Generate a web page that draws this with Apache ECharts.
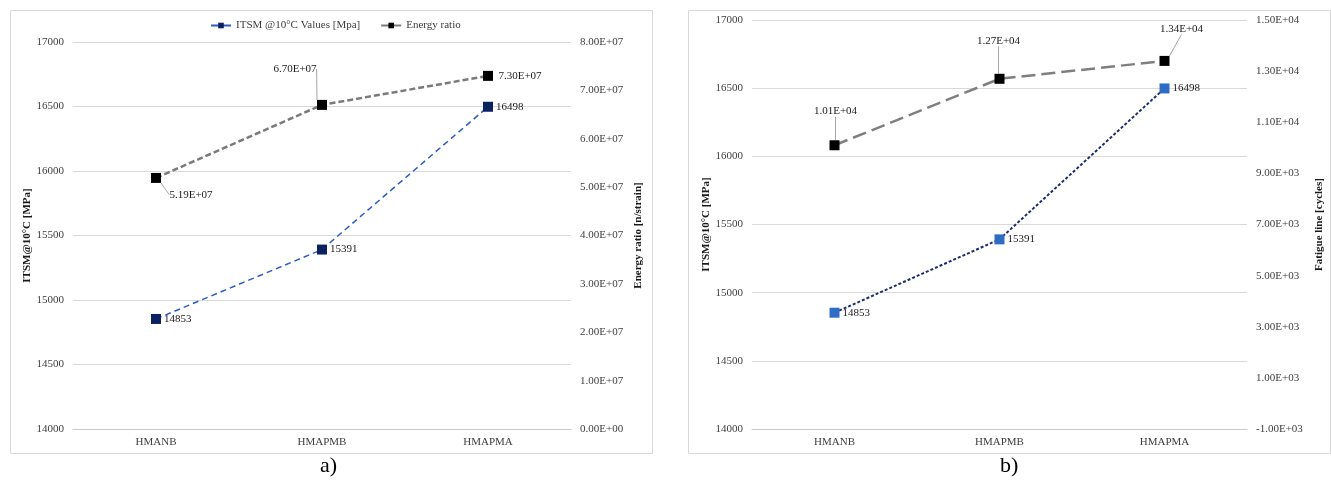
<!DOCTYPE html>
<html>
<head>
<meta charset="utf-8">
<script src="https://cdn.jsdelivr.net/npm/echarts@6/dist/echarts.min.js"></script>
<style>
    html, body { margin: 0; padding: 0; background: #fff; }
    #chart { width: 1331px; height: 481px; }
</style>
</head>
<body>
<div id="chart"></div>
<script>
const categories = ['HMANB', 'HMAPMB', 'HMAPMA'];
const itsmValues = [14853, 15391, 16498];
const energyRatio = [5.19e7, 6.70e7, 7.30e7];
const fatigueLine = [1.01e4, 1.27e4, 1.34e4];

// label offsets (dx, dy) for the leader-line labels
const energyLabelShift = [[35, 17], [-27, -36], [32, 0]];
const fatigueLabelShift = [[1, -34], [-1, -38], [17, -32]];

const serif = '"Liberation Serif", "Times New Roman", serif';
const textGrey = '#404040';

// 8.00E+07 style
function sci(v) {
    let parts = Number(v).toExponential(2).split('e');
    let exp = parseInt(parts[1], 10);
    let sign = exp < 0 ? '-' : '+';
    let e = String(Math.abs(exp)).padStart(2, '0');
    return parts[0] + 'E' + sign + e;
}

function valueAxis(gridIndex, position, min, max, interval, name, nameGap, sciLabels) {
    return {
        type: 'value',
        gridIndex: gridIndex,
        position: position,
        min: min,
        max: max,
        interval: interval,
        name: name,
        nameLocation: 'middle',
        nameRotate: 90,
        nameGap: nameGap,
        nameTextStyle: { fontFamily: serif, fontSize: 11, fontWeight: 'bold', color: '#1a1a1a' },
        axisLine: { show: false },
        axisTick: { show: false },
        axisLabel: {
            fontFamily: serif,
            fontSize: 11,
            color: textGrey,
            margin: 9,
            formatter: sciLabels ? sci : (v => String(v))
        },
        splitLine: { show: position === 'left', lineStyle: { color: '#d9d9d9', width: 1 } }
    };
}

function catAxis(gridIndex) {
    return {
        type: 'category',
        gridIndex: gridIndex,
        data: categories,
        boundaryGap: true,
        axisLine: { onZero: false, lineStyle: { color: '#c8c8c8', width: 1 } },
        axisTick: { show: false },
        axisLabel: { fontFamily: serif, fontSize: 11, color: textGrey, margin: 8 }
    };
}

function getOption() {
    return {
        backgroundColor: '#fff',
        animation: false,
        graphic: [
            { type: 'rect', shape: { x: 10.5, y: 10.5, width: 642, height: 443 },
              style: { fill: 'none', stroke: '#d9d9d9', lineWidth: 1 }, z: -1 },
            { type: 'rect', shape: { x: 688.5, y: 10.5, width: 642, height: 443 },
              style: { fill: 'none', stroke: '#d9d9d9', lineWidth: 1 }, z: -1 },
            { type: 'text', left: 320, top: 455,
              style: { text: 'a)', font: '22px ' + serif, fill: '#000' } },
            { type: 'text', left: 1000, top: 455,
              style: { text: 'b)', font: '22px ' + serif, fill: '#000' } }
        ],
        legend: {
            data: ['ITSM @10°C Values [Mpa]', 'Energy ratio'],
            left: 205,
            top: 15,
            itemWidth: 20,
            itemHeight: 7,
            itemGap: 20,
            lineStyle: { type: 'solid', width: 2 },
            textStyle: { fontFamily: serif, fontSize: 11, color: textGrey }
        },
        grid: [
            { left: 73, right: 760, top: 42, bottom: 52 },
            { left: 752, right: 84, top: 20, bottom: 52 }
        ],
        xAxis: [catAxis(0), catAxis(1)],
        yAxis: [
            valueAxis(0, 'left', 14000, 17000, 500, 'ITSM@10°C [MPa]', 40, false),
            valueAxis(0, 'right', 0, 8e7, 1e7, 'Energy ratio [n/strain]', 62, true),
            valueAxis(1, 'left', 14000, 17000, 500, 'ITSM@10°C [MPa]', 40, false),
            valueAxis(1, 'right', -1000, 15000, 2000, 'Fatigue line [cycles]', 67, true)
        ],
        series: [
            {
                name: 'ITSM @10°C Values [Mpa]',
                type: 'line',
                xAxisIndex: 0,
                yAxisIndex: 0,
                data: itsmValues,
                symbol: 'rect',
                symbolSize: 10,
                itemStyle: { color: '#0c2260' },
                lineStyle: { color: '#2a5cc4', width: 1.5, type: [6, 4] },
                label: { show: true, position: 'right', distance: 3,
                         fontFamily: serif, fontSize: 11, color: '#1a1a1a' }
            },
            {
                name: 'Energy ratio',
                type: 'line',
                xAxisIndex: 0,
                yAxisIndex: 1,
                data: energyRatio.map((v, i) => ({
                    value: v,
                    labelLine: { show: i !== 2 }
                })),
                symbol: 'rect',
                symbolSize: 10,
                itemStyle: { color: '#000' },
                lineStyle: { color: '#7a7a7a', width: 2.5, type: [6, 3] },
                label: { show: true, position: 'inside', formatter: p => sci(p.value),
                         fontFamily: serif, fontSize: 11, color: '#1a1a1a' },
                labelLine: { show: true, lineStyle: { color: '#a6a6a6', width: 1 } },
                labelLayout: p => ({ dx: energyLabelShift[p.dataIndex][0], dy: energyLabelShift[p.dataIndex][1] })
            },
            {
                name: 'ITSM b',
                type: 'line',
                xAxisIndex: 1,
                yAxisIndex: 2,
                data: itsmValues,
                symbol: 'rect',
                symbolSize: 10,
                itemStyle: { color: '#2f6cc4' },
                lineStyle: { color: '#1b2d6b', width: 2, type: [3, 2] },
                label: { show: true, position: 'right', distance: 3,
                         fontFamily: serif, fontSize: 11, color: '#1a1a1a' }
            },
            {
                name: 'Fatigue line',
                type: 'line',
                xAxisIndex: 1,
                yAxisIndex: 3,
                data: fatigueLine,
                symbol: 'rect',
                symbolSize: 10,
                itemStyle: { color: '#000' },
                lineStyle: { color: '#7f7f7f', width: 2.5, type: [14, 6] },
                label: { show: true, position: 'inside', formatter: p => sci(p.value),
                         fontFamily: serif, fontSize: 11, color: '#1a1a1a' },
                labelLine: { show: true, lineStyle: { color: '#a6a6a6', width: 1 } },
                labelLayout: p => ({ dx: fatigueLabelShift[p.dataIndex][0], dy: fatigueLabelShift[p.dataIndex][1] })
            }
        ]
    };
}

function draw() {
    let dom = document.getElementById('chart');
    let chart = echarts.init(dom, null, { renderer: 'canvas' });
    chart.setOption(getOption());
}

draw();
</script>
</body>
</html>
